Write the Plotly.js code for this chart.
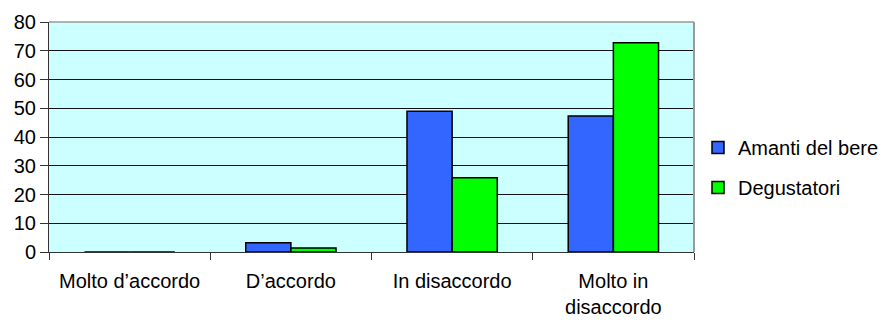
<!DOCTYPE html>
<html>
<head>
<meta charset="utf-8">
<script src="https://cdn.plot.ly/plotly-3.0.1.min.js"></script>
<style>html,body{margin:0;padding:0;background:#fff;}#chart{width:882px;height:320px;}</style>
</head>
<body>
<div id="chart"></div>
<script>
const categories = ["Molto d\u2019accordo", "D\u2019accordo", "In disaccordo", "Molto in<br>disaccordo"];
const seriesNames = ["Amanti del bere", "Degustatori"];
const amanti = [0, 3.2, 49, 47.3];
const degustatori = [0, 1.4, 25.8, 72.8];
const yTicks = [0, 10, 20, 30, 40, 50, 60, 70, 80];

const FONT = "Liberation Sans, Arial, sans-serif";

const traces = [
  {type: "bar", name: seriesNames[0], x: categories, y: amanti, legendgroup: "a",
   marker: {color: "#3366FF", line: {color: "#000", width: 1.5}}},
  {type: "bar", name: seriesNames[1], x: categories, y: degustatori, legendgroup: "b",
   marker: {color: "#00FF00", line: {color: "#000", width: 1.5}}}
];

const layout = {
  width: 882, height: 320,
  margin: {l: 49, r: 188, t: 22, b: 68, pad: 0},
  paper_bgcolor: "#ffffff",
  plot_bgcolor: "#CCFFFF",
  font: {family: FONT, size: 20, color: "#000"},
  barmode: "group",
  bargap: 0.44,
  bargroupgap: 0,
  showlegend: true,
  legend: {xref: "container", x: 698 / 882, xanchor: "left", y: 0.367, yanchor: "middle",
           font: {family: FONT, size: 20, color: "#000"},
           traceorder: "grouped", tracegroupgap: 11, bgcolor: "rgba(0,0,0,0)"},
  xaxis: {type: "category", tickson: "boundaries", ticks: "outside", ticklen: 7,
          tickcolor: "#333", showline: true, linecolor: "#333", linewidth: 1,
          showgrid: false, ticklabelstandoff: 11,
          tickfont: {family: FONT, size: 20, color: "#000"},
          fixedrange: true},
  yaxis: {range: [0, 80], tickvals: yTicks, ticktext: yTicks.map(String),
          ticks: "outside", ticklen: 8, tickcolor: "#333",
          showline: true, linecolor: "#333", linewidth: 1,
          showgrid: true, gridcolor: "#111", gridwidth: 1, zeroline: false,
          tickfont: {family: FONT, size: 20, color: "#000"}, fixedrange: true},
  shapes: [
    {type: "line", xref: "paper", yref: "paper", x0: 0, x1: 1, y0: 1, y1: 1,
     line: {color: "#999", width: 1.5}},
    {type: "line", xref: "paper", yref: "paper", x0: 1, x1: 1, y0: 0, y1: 1,
     line: {color: "#999", width: 2}}
  ]
};

Plotly.newPlot("chart", traces, layout, {displayModeBar: false, staticPlot: true});
</script>
</body>
</html>
